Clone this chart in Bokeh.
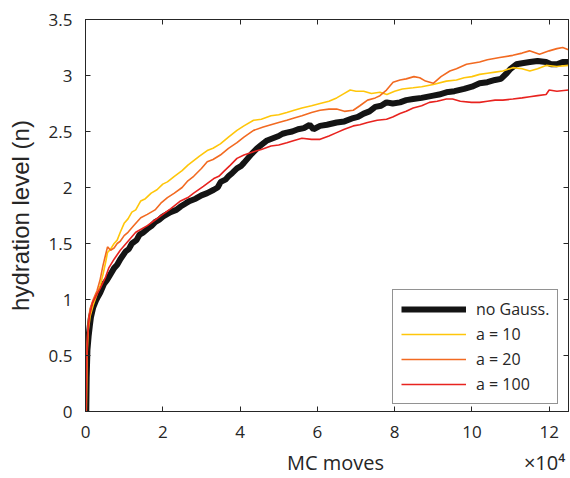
import math
from bokeh.plotting import figure
from bokeh.models import (Legend, LegendItem, LinearAxis, FixedTicker, Range1d)
from bokeh.embed import file_html
from bokeh.resources import INLINE

# ---------------- data (x: MC moves in units of 1e4, y: hydration level n) ----
nogauss = [(0.02, 0.0), (0.03, 0.3), (0.05, 0.55), (0.08, 0.67), (0.11, 0.76),
           (0.14, 0.84), (0.2, 0.93), (0.27, 0.99), (0.33, 1.03), (0.38, 1.06),
           (0.48, 1.14), (0.55, 1.17), (0.62, 1.21), (0.74, 1.28), (0.82, 1.31),
           (0.9, 1.36), (1.04, 1.43), (1.12, 1.45), (1.2, 1.5), (1.32, 1.53),
           (1.4, 1.58), (1.5, 1.6), (1.6, 1.63), (1.72, 1.66), (1.8, 1.69),
           (1.9, 1.71), (2.0, 1.74), (2.1, 1.76), (2.2, 1.78), (2.35, 1.8),
           (2.46, 1.83), (2.6, 1.86), (2.7, 1.88), (2.85, 1.9), (3.0, 1.93),
           (3.15, 1.95), (3.32, 1.98), (3.42, 2.0), (3.5, 2.05), (3.62, 2.07),
           (3.7, 2.1), (3.8, 2.13), (3.92, 2.17), (4.02, 2.19), (4.1, 2.22),
           (4.2, 2.26), (4.3, 2.3), (4.44, 2.35), (4.55, 2.38), (4.7, 2.42),
           (4.85, 2.44), (5.0, 2.46), (5.1, 2.48), (5.21, 2.49), (5.35, 2.5),
           (5.5, 2.52), (5.65, 2.53), (5.8, 2.56), (5.9, 2.52), (6.07, 2.55),
           (6.25, 2.56), (6.5, 2.58), (6.7, 2.59), (6.93, 2.62), (7.05, 2.63),
           (7.2, 2.66), (7.35, 2.68), (7.5, 2.72), (7.65, 2.73), (7.79, 2.76),
           (7.95, 2.75), (8.14, 2.76), (8.3, 2.78), (8.48, 2.79), (8.7, 2.8),
           (9.0, 2.82), (9.15, 2.83), (9.34, 2.85), (9.55, 2.86), (9.8, 2.88),
           (10.0, 2.9), (10.2, 2.93), (10.4, 2.94), (10.6, 2.96), (10.75, 2.97),
           (10.9, 3.02), (11.0, 3.06), (11.15, 3.10), (11.3, 3.11), (11.5, 3.12),
           (11.7, 3.13), (11.92, 3.12), (12.05, 3.10), (12.2, 3.10), (12.35, 3.12),
           (12.5, 3.12)]

a10 = [(0.02, 0.0), (0.04, 0.5), (0.07, 0.72), (0.12, 0.85), (0.2, 0.95),
       (0.3, 1.05), (0.38, 1.12), (0.45, 1.22), (0.52, 1.33), (0.57, 1.42),
       (0.65, 1.45), (0.74, 1.5), (0.82, 1.53), (0.9, 1.6), (1.0, 1.68),
       (1.1, 1.72), (1.2, 1.78), (1.3, 1.8), (1.43, 1.88), (1.55, 1.9),
       (1.7, 1.95), (1.85, 1.98), (2.0, 2.03), (2.12, 2.05), (2.3, 2.1),
       (2.5, 2.15), (2.65, 2.2), (2.8, 2.24), (2.95, 2.28), (3.15, 2.33),
       (3.3, 2.35), (3.49, 2.39), (3.7, 2.45), (3.92, 2.51), (4.1, 2.55),
       (4.35, 2.60), (4.55, 2.61), (4.8, 2.64), (5.0, 2.65), (5.21, 2.67),
       (5.4, 2.69), (5.6, 2.71), (5.85, 2.73), (6.07, 2.75), (6.3, 2.77),
       (6.5, 2.8), (6.7, 2.84), (6.85, 2.87), (7.0, 2.86), (7.2, 2.86),
       (7.4, 2.84), (7.62, 2.85), (7.8, 2.83), (8.0, 2.86), (8.2, 2.88),
       (8.48, 2.89), (8.7, 2.9), (9.0, 2.92), (9.34, 2.95), (9.6, 2.96),
       (9.8, 2.98), (10.0, 2.99), (10.2, 3.01), (10.4, 3.02), (10.6, 3.03),
       (10.8, 3.04), (11.06, 3.07), (11.3, 3.06), (11.5, 3.04), (11.7, 3.06),
       (11.92, 3.09), (12.2, 3.08), (12.5, 3.09)]

a20 = [(0.02, 0.0), (0.04, 0.6), (0.07, 0.8), (0.12, 0.92), (0.2, 1.0),
       (0.3, 1.08), (0.38, 1.18), (0.45, 1.3), (0.52, 1.4), (0.57, 1.47),
       (0.65, 1.44), (0.74, 1.46), (0.82, 1.5), (0.9, 1.52), (1.0, 1.57),
       (1.1, 1.6), (1.25, 1.66), (1.43, 1.73), (1.6, 1.76), (1.8, 1.8),
       (1.95, 1.86), (2.12, 1.91), (2.3, 1.95), (2.5, 2.0), (2.65, 2.06),
       (2.8, 2.1), (3.0, 2.17), (3.15, 2.23), (3.3, 2.25), (3.49, 2.29),
       (3.7, 2.35), (3.92, 2.40), (4.1, 2.45), (4.35, 2.51), (4.6, 2.54),
       (4.8, 2.56), (5.0, 2.58), (5.21, 2.60), (5.4, 2.62), (5.6, 2.64),
       (5.85, 2.67), (6.07, 2.69), (6.3, 2.7), (6.5, 2.7), (6.7, 2.68),
       (6.93, 2.69), (7.1, 2.73), (7.3, 2.78), (7.5, 2.8), (7.62, 2.82),
       (7.79, 2.87), (7.96, 2.94), (8.14, 2.96), (8.3, 2.97), (8.5, 2.99),
       (8.65, 2.98), (8.8, 2.95), (9.0, 2.93), (9.2, 2.99), (9.43, 3.04),
       (9.6, 3.06), (9.86, 3.1), (10.2, 3.12), (10.4, 3.14), (10.72, 3.16),
       (11.06, 3.18), (11.3, 3.2), (11.49, 3.22), (11.75, 3.19), (12.0, 3.22),
       (12.2, 3.24), (12.35, 3.25), (12.5, 3.23)]

a100 = [(0.01, 0.0), (0.03, 0.45), (0.06, 0.7), (0.1, 0.85), (0.18, 0.97),
        (0.3, 1.05), (0.38, 1.1), (0.45, 1.15), (0.52, 1.2), (0.6, 1.28),
        (0.74, 1.36), (0.82, 1.4), (0.9, 1.44), (1.0, 1.48), (1.1, 1.52),
        (1.2, 1.56), (1.3, 1.6), (1.45, 1.63), (1.6, 1.66), (1.8, 1.71),
        (2.0, 1.76), (2.2, 1.81), (2.46, 1.88), (2.65, 1.91), (2.8, 1.95),
        (3.05, 2.01), (3.32, 2.08), (3.45, 2.1), (3.6, 2.15), (3.75, 2.2),
        (3.92, 2.26), (4.1, 2.29), (4.35, 2.32), (4.55, 2.34), (4.8, 2.37),
        (5.0, 2.38), (5.21, 2.40), (5.4, 2.42), (5.6, 2.44), (5.85, 2.43),
        (6.07, 2.43), (6.3, 2.46), (6.5, 2.49), (6.7, 2.52), (6.93, 2.55),
        (7.1, 2.56), (7.3, 2.58), (7.55, 2.6), (7.79, 2.61), (7.95, 2.63),
        (8.14, 2.66), (8.3, 2.68), (8.48, 2.71), (8.7, 2.73), (8.9, 2.76),
        (9.1, 2.77), (9.34, 2.79), (9.5, 2.79), (9.7, 2.77), (9.99, 2.76),
        (10.2, 2.76), (10.4, 2.77), (10.6, 2.78), (10.8, 2.78), (11.06, 2.79),
        (11.3, 2.8), (11.5, 2.81), (11.7, 2.82), (11.92, 2.83), (12.0, 2.87),
        (12.2, 2.86), (12.5, 2.87)]

series_names = ["no Gauss.", "a = 10", "a = 20", "a = 100"]
x_ticks = [0, 2, 4, 6, 8, 10, 12]
x_tick_labels = ["0", "2", "4", "6", "8", "10", "12"]
y_ticks = [0, 0.5, 1, 1.5, 2, 2.5, 3, 3.5]
y_tick_labels = ["0", "0.5", "1", "1.5", "2", "2.5", "3", "3.5"]
x_label = "MC moves"
x_exponent = "\u00d710\u2074"
y_label = "hydration level (n)"

# ---------------- figure ----------------
AX = "#262626"
p = figure(width=570, height=478, x_range=Range1d(0, 12.5), y_range=Range1d(0, 3.5),
           output_backend="svg", toolbar_location=None,
           min_border_left=85, min_border_right=2, min_border_top=19,
           min_border_bottom=67, background_fill_color="white",
           border_fill_color="white")
p.grid.visible = False
p.outline_line_color = AX
p.outline_line_width = 1

bottom_axis = p.below[0]
left_axis = p.left[0]
top_axis = LinearAxis()
right_axis = LinearAxis()
p.add_layout(top_axis, "above")
p.add_layout(right_axis, "right")

for ax in [bottom_axis, top_axis]:
    ax.ticker = FixedTicker(ticks=x_ticks)
for ax in [left_axis, right_axis]:
    ax.ticker = FixedTicker(ticks=y_ticks)

bottom_axis.major_label_overrides = {t: l for t, l in zip(x_ticks, x_tick_labels)}
left_axis.major_label_overrides = {t: l for t, l in zip(y_ticks, y_tick_labels)}

for ax in [bottom_axis, left_axis, top_axis, right_axis]:
    ax.axis_line_color = AX
    ax.major_tick_line_color = AX
    ax.major_tick_in = 5
    ax.major_tick_out = 0
    ax.minor_tick_line_color = None
    ax.major_label_text_font = "Open Sans"
    ax.major_label_text_font_size = "17px"
    ax.major_label_text_color = AX

for ax in [top_axis, right_axis]:
    ax.major_label_text_font_size = "1px"
    ax.major_label_text_color = None
    ax.major_label_standoff = 0

bottom_axis.major_label_standoff = 14
left_axis.major_label_standoff = 13

left_axis.axis_label = y_label
left_axis.axis_label_text_font = "Liberation Sans"
left_axis.axis_label_text_font_size = "24px"
left_axis.axis_label_text_font_style = "normal"
left_axis.axis_label_text_color = AX
left_axis.axis_label_standoff = 12

# second row under the x axis: the axis title and the x10^4 exponent,
# written as the labels of an axis without line or ticks
title_pos = [6.47, 11.88]
title_axis = LinearAxis(ticker=FixedTicker(ticks=title_pos),
                        major_label_overrides={title_pos[0]: x_label,
                                               title_pos[1]: x_exponent},
                        axis_line_color=None, major_tick_line_color=None,
                        minor_tick_line_color=None, major_tick_in=0,
                        major_tick_out=0, major_label_standoff=8,
                        major_label_text_font="Open Sans",
                        major_label_text_font_size="20px",
                        major_label_text_color=AX)
p.add_layout(title_axis, "below")

def xs(d):
    return [a for a, b in d]

def ys(d):
    return [b for a, b in d]

r0 = p.line(xs(nogauss), ys(nogauss), line_color="#141414", line_width=6)
r1 = p.line(xs(a10), ys(a10), line_color="#FFC60A", line_width=1.6)
r2 = p.line(xs(a20), ys(a20), line_color="#F26A21", line_width=1.6)
r3 = p.line(xs(a100), ys(a100), line_color="#E8231F", line_width=1.6)

legend = Legend(items=[LegendItem(label=n, renderers=[r])
                       for n, r in zip(series_names, [r0, r1, r2, r3])],
                location=(307, 7), glyph_width=65, glyph_height=20,
                label_height=20, spacing=3, padding=8, label_standoff=10,
                border_line_color=AX, border_line_width=1,
                background_fill_color="white", background_fill_alpha=1,
                label_text_font="Open Sans", label_text_font_size="16px",
                label_text_color=AX, margin=0)
p.add_layout(legend)

open("out.html", "w").write(file_html(p, INLINE))
